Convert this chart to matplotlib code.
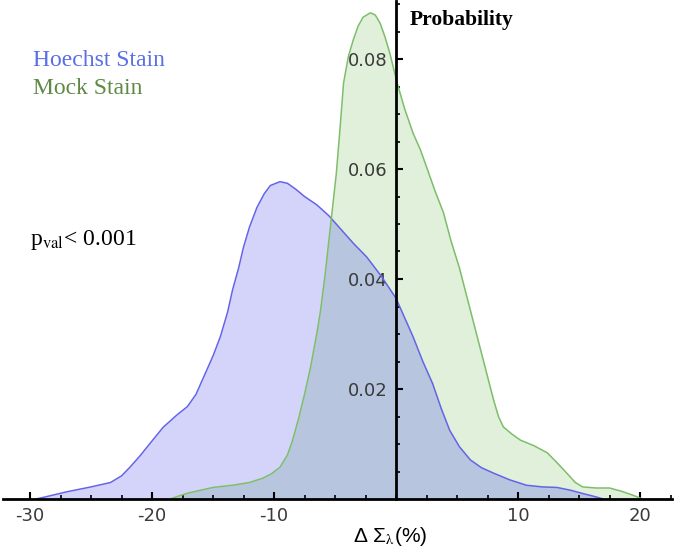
import matplotlib
matplotlib.use("Agg")
import matplotlib.pyplot as plt
from matplotlib.ticker import MultipleLocator, FixedLocator, FuncFormatter

# ---- data ----
hoechst_x = [-29.5, -28.9, -27, -25, -23.4, -22.5, -21.8, -21, -20.2, -19.1, -18, -17.1,
             -16.4, -15.8, -15, -14.4, -13.8, -13.4, -12.9, -12.5, -12, -11.4, -10.8,
             -10.3, -9.5, -8.9, -8.2, -7.5, -6.5, -5.5, -4.5, -3.5, -2.4, -1.2, 0, 0.7,
             1.4, 2.2, 3.0, 3.7, 4.4, 5.2, 6.1, 7, 8.0, 9.3, 10.7, 12, 13.2, 14.3, 15.3,
             16.2, 17]
hoechst_y = [0, 0.0003, 0.0013, 0.0022, 0.003, 0.0042, 0.0058, 0.0078, 0.010, 0.013, 0.0152,
             0.0168, 0.019, 0.022, 0.026, 0.0295, 0.034, 0.038, 0.042, 0.0458, 0.0495,
             0.053, 0.0555, 0.057, 0.0577, 0.0574, 0.0563, 0.055, 0.0535, 0.0515, 0.049,
             0.0465, 0.044, 0.0405, 0.0365, 0.033, 0.0295, 0.025, 0.021, 0.0165, 0.0125,
             0.0095, 0.0071, 0.0057, 0.0047, 0.0035, 0.0025, 0.0022, 0.0021, 0.0016,
             0.001, 0.0005, 0.0]

mock_x = [-18.5, -18, -17, -16, -15, -13.4, -12, -10.9, -10.2, -9.5, -8.9, -8.5, -8.0, -7.5,
          -7.0, -6.5, -6.2, -5.8, -5.4, -4.9, -4.6, -4.3, -3.9, -3.5, -3.1, -2.7, -2.1,
          -1.7, -1.3, -0.9, -0.5, 0.1, 0.7, 1.4, 2.0, 2.5, 3.2, 3.9, 4.5, 5.2, 5.9, 6.6,
          7.3, 8.0, 8.4, 8.8, 9.5, 10.2, 11.3, 12.4, 13.2, 14, 14.7, 15.3, 16.4, 17.5,
          18.5, 19.4, 20.2]
mock_y = [0, 0.0004, 0.0011, 0.0016, 0.0021, 0.0025, 0.003, 0.0038, 0.0046, 0.0058, 0.008,
          0.0105, 0.0145, 0.019, 0.024, 0.030, 0.034, 0.041, 0.049, 0.059, 0.067, 0.0756,
          0.0805, 0.0835, 0.086, 0.0876, 0.0884, 0.088, 0.0865, 0.084, 0.081, 0.0756,
          0.071, 0.0665, 0.0635, 0.0604, 0.056, 0.052, 0.047, 0.042, 0.036, 0.030, 0.024,
          0.018, 0.015, 0.0131, 0.0118, 0.0107, 0.0097, 0.0084, 0.0066, 0.0047, 0.003,
          0.0022, 0.002, 0.002, 0.0014, 0.0007, 0]

x_major = [-30, -20, -10, 10, 20]
y_major = [0.02, 0.04, 0.06, 0.08]

series_labels = ["Hoechst Stain", "Mock Stain"]

# ---- styling ----
W, H = 677, 550
plt.rcParams['axes.unicode_minus'] = False
plt.rcParams['mathtext.fontset'] = 'stix'
fig = plt.figure(figsize=(W / 100, H / 100), dpi=100)

xmin, xmax = -32.2, 22.6
ymin, ymax = 0.0, 0.0905
px_per_x = 12.2
px_per_y = 5500
x0_px, y0_px = 396, 499
left = (x0_px + xmin * px_per_x) / W
width = (xmax - xmin) * px_per_x / W
bottom = (H - y0_px) / H
height = (ymax - ymin) * px_per_y / H
ax = fig.add_axes([left, bottom, width, height])
ax.set_xlim(xmin, xmax)
ax.set_ylim(ymin, ymax)
ax.patch.set_alpha(0)

blue_fill = (212 / 255, 212 / 255, 250 / 255)
green_fill = (224 / 255, 240 / 255, 218 / 255)
overlap_fill = (183 / 255, 197 / 255, 222 / 255)
blue_line = (100 / 255, 100 / 255, 230 / 255)
green_line = (125 / 255, 190 / 255, 105 / 255)

pb = ax.fill_between(hoechst_x, hoechst_y, 0, color=blue_fill, lw=0, zorder=1)
pg = ax.fill_between(mock_x, mock_y, 0, color=green_fill, lw=0, zorder=1.1)
po = ax.fill_between(mock_x, mock_y, 0, color=overlap_fill, lw=0, zorder=1.2)
bpath = pb.get_paths()[0]
po.set_clip_path(bpath, ax.transData)

ax.plot(hoechst_x, hoechst_y, color=blue_line, lw=1.1, zorder=3)
ax.plot(mock_x, mock_y, color=green_line, lw=1.1, zorder=3)

# axes through origin
for s in ['top', 'right']:
    ax.spines[s].set_visible(False)
ax.spines['left'].set_position(('data', 0))
ax.spines['bottom'].set_position(('data', 0))
for s in ['left', 'bottom']:
    ax.spines[s].set_linewidth(2.0)
    ax.spines[s].set_color('black')
    ax.spines[s].set_zorder(5)

ax.xaxis.set_major_locator(FixedLocator(x_major))
ax.xaxis.set_minor_locator(MultipleLocator(2.5))
ax.yaxis.set_major_locator(FixedLocator(y_major))
ax.yaxis.set_minor_locator(MultipleLocator(0.005))
ax.xaxis.set_major_formatter(FuncFormatter(lambda v, p: "%d" % v))
ax.yaxis.set_major_formatter(FuncFormatter(lambda v, p: "%.2f" % v))
ax.tick_params(axis='both', which='major', direction='in', length=5, width=1.5,
               color='black', labelsize=13, labelcolor='#3a3a3a', pad=6)
ax.tick_params(axis='both', which='minor', direction='in', length=3, width=1.2,
               color='black')
ax.tick_params(axis='x', which='both', top=False)
ax.tick_params(axis='y', which='both', right=False)

# ---- texts ----
def fx(px):
    return px / W

def fy(py):
    return 1 - py / H

fig.text(fx(410), fy(20), "Probability", fontsize=15.5, fontweight='bold',
         family='Liberation Serif', va='center', ha='left')
fig.text(fx(33), fy(60), series_labels[0], fontsize=17, family='Liberation Serif',
         color='#5a6ee6', va='center', ha='left')
fig.text(fx(33), fy(88), series_labels[1], fontsize=17, family='Liberation Serif',
         color='#5e8a44', va='center', ha='left')
fig.text(fx(30), fy(240), r"p$_{\mathrm{val}}$< 0.001", fontsize=17,
         family='Liberation Serif', va='center', ha='left')
fig.text(fx(390), fy(537), r"Δ Σ$_{\mathrm{\lambda}}$(%)", fontsize=15,
         family='Liberation Sans', va='center', ha='center')

fig.savefig("out.png", dpi=100)
